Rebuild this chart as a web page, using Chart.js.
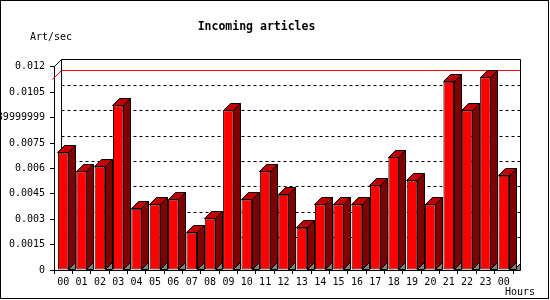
<!DOCTYPE html>
<html>
<head>
<meta charset="utf-8">
<script src="https://cdn.jsdelivr.net/npm/chart.js@4.4.0/dist/chart.umd.min.js"></script>
<style>
  html, body { margin: 0; padding: 0; background: #fff; }
  #wrap { position: relative; width: 550px; height: 300px; }
</style>
</head>
<body>
<div id="wrap"><canvas id="myChart" width="550" height="300"></canvas></div>
<script>
// hourly incoming articles, articles per second
const hours = ['00', '01', '02', '03', '04', '05', '06', '07', '08', '09', '10', '11',
  '12', '13', '14', '15', '16', '17', '18', '19', '20', '21', '22', '23', '00'];
const artPerSec = [0.00694, 0.00583, 0.00611, 0.00972, 0.00361, 0.00389, 0.00417, 0.00222,
  0.00306, 0.00944, 0.00417, 0.00583, 0.00444, 0.0025, 0.00389, 0.00389, 0.00389, 0.005,
  0.00667, 0.00528, 0.00389, 0.01111, 0.00944, 0.01139, 0.00556];
const yTicks = [0, 0.0015, 0.003, 0.0045, 0.006, 0.0075, 0.009, 0.0105, 0.012];
const yTickLabels = ['0', '0.0015', '0.003', '0.0045', '0.006', '0.0075', '0.0089999999', '0.0105', '0.012'];

const depth = 7;
const monoFont = { family: 'DejaVu Sans Mono', size: 10 };

function px(v) {
  return Math.round(v - 0.5) + 0.5;
}

function line(ctx, x1, y1, x2, y2) {
  ctx.beginPath();
  ctx.moveTo(x1, y1);
  ctx.lineTo(x2, y2);
  ctx.stroke();
}

function poly(ctx, pts, fill) {
  ctx.beginPath();
  ctx.moveTo(pts[0][0], pts[0][1]);
  for (let i = 1; i < pts.length; i++) ctx.lineTo(pts[i][0], pts[i][1]);
  ctx.closePath();
  ctx.fillStyle = fill;
  ctx.fill();
  ctx.stroke();
}

const threeD = {
  id: 'threeD',
  beforeDatasetsDraw(chart) {
    const ctx = chart.ctx;
    const a = chart.chartArea;
    const y = chart.scales.y;
    const d = depth;
    const L = px(a.left), R = px(a.right), T = px(a.top), B = px(a.bottom);
    ctx.save();
    ctx.lineWidth = 1;

    // back wall grid
    ctx.strokeStyle = '#000';
    ctx.setLineDash([3, 3]);
    yTicks.forEach(v => {
      if (v === 0 || v === yTicks[yTicks.length - 1]) return;
      const yy = px(y.getPixelForValue(v) - d);
      line(ctx, L + d, yy, R + d, yy);
    });
    ctx.setLineDash([]);

    // max line
    const maxVal = Math.max(...artPerSec);
    const ym = px(y.getPixelForValue(maxVal));
    ctx.strokeStyle = '#ff0000';
    line(ctx, L - 2, ym + 2, L + d, ym - d);
    line(ctx, L + d, ym - d, R + d, ym - d);

    // back frame
    ctx.strokeStyle = '#000';
    line(ctx, L + d, T - d, R + d, T - d);
    line(ctx, L + d, T - d, L + d, B - d);
    line(ctx, R + d, T - d, R + d, B - d);
    line(ctx, L, T, L + d, T - d);
    poly(ctx, [[R, B], [R + d, B - d], [R + d, B]], '#808080');
    ctx.restore();
  },
  afterDatasetsDraw(chart) {
    const ctx = chart.ctx;
    const d = depth;
    ctx.save();
    ctx.lineWidth = 1;
    ctx.strokeStyle = '#000';
    chart.getDatasetMeta(0).data.forEach(bar => {
      const xr = px(bar.x + bar.width / 2);
      const xl = px(bar.x - bar.width / 2);
      const top = px(bar.y);
      const base = px(bar.base);
      poly(ctx, [[xr, base], [xr + d, base - d], [xr + d, base]], '#808080');
      poly(ctx, [[xr, top], [xr + d, top - d], [xr + d, base - d], [xr, base]], '#800000');
      poly(ctx, [[xl, top], [xl + d, top - d], [xr + d, top - d], [xr, top]], '#c00000');
    });
    ctx.restore();
  },
  afterDraw(chart) {
    const ctx = chart.ctx;
    ctx.save();
    ctx.fillStyle = '#000';
    ctx.font = '10px "DejaVu Sans Mono"';
    ctx.textBaseline = 'middle';
    ctx.textAlign = 'left';
    ctx.fillText('Art/sec', 30, 37);
    ctx.fillText('Hours', 505, 292);
    ctx.strokeStyle = '#000';
    ctx.lineWidth = 1;
    ctx.strokeRect(0.5, 0.5, 548, 298);
    ctx.restore();
  }
};

const ctx = document.getElementById('myChart').getContext('2d');
const myBarChart = new Chart(ctx, {
  type: 'bar',
  data: {
    labels: hours,
    datasets: [{
      data: artPerSec,
      backgroundColor: '#ff0000',
      borderColor: '#000000',
      borderWidth: 1,
      borderSkipped: false,
      categoryPercentage: 1,
      barPercentage: 0.58
    }]
  },
  options: {
    responsive: false,
    animation: false,
    devicePixelRatio: 1,
    layout: { padding: { left: 0, right: 37, top: 0, bottom: 0 } },
    plugins: {
      legend: { display: false },
      tooltip: { enabled: false },
      title: {
        display: true,
        text: 'Incoming articles',
        color: '#000',
        font: { family: 'DejaVu Sans Mono', size: 11.5, weight: 'bold' },
        padding: { top: 20, bottom: 33 }
      }
    },
    scales: {
      x: {
        grid: { display: true, drawOnChartArea: false, drawTicks: true, tickLength: 4, color: '#000', offset: true },
        border: { display: true, color: '#000' },
        ticks: { color: '#000', font: monoFont, padding: 2, maxRotation: 0, autoSkip: false },
        afterFit(scale) { scale.height = 30; }
      },
      y: {
        min: 0,
        max: 0.012,
        afterBuildTicks(scale) { scale.ticks = yTicks.map(v => ({ value: v })); },
        grid: { display: true, drawOnChartArea: false, drawTicks: true, tickLength: 4, color: '#000' },
        border: { display: true, color: '#000' },
        ticks: { color: '#000', font: monoFont, padding: 5, callback: (v, i) => yTickLabels[i] },
        afterFit(scale) { scale.width = 54; }
      }
    }
  },
  plugins: [threeD]
});
</script>
</body>
</html>
